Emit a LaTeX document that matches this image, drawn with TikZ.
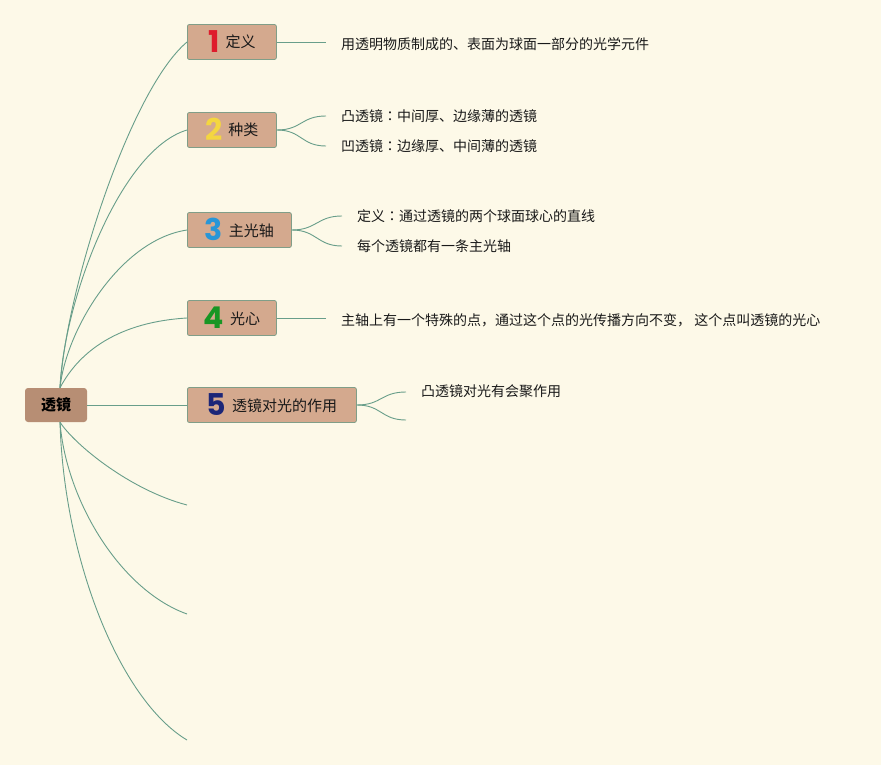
\documentclass[tikz,border=0pt]{standalone}
\usepackage{fontspec}
\setmainfont{Noto Sans CJK SC}
\newfontfamily\numfont{Poppins}
\newfontfamily\tcfont{Noto Sans CJK TC}
\definecolor{bgc}{RGB}{253,249,232}
\definecolor{linec}{RGB}{104,158,138}
\definecolor{boxc}{RGB}{212,169,142}
\definecolor{boxb}{RGB}{128,158,136}
\definecolor{rootc}{RGB}{183,142,116}
\definecolor{txtc}{RGB}{25,25,25}
\definecolor{n1}{RGB}{222,28,44}
\definecolor{n2}{RGB}{244,214,64}
\definecolor{n3}{RGB}{40,150,215}
\definecolor{n4}{RGB}{24,150,36}
\definecolor{n5}{RGB}{28,38,120}
\tikzset{
  conn/.style={draw=linec, line width=0.9pt},
  topic/.style={draw=boxb, line width=0.8pt, fill=boxc, rounded corners=2pt,
    anchor=west, minimum height=35pt, inner xsep=4pt, inner ysep=0pt,
    text height=21pt, text depth=0pt,
    font=\fontsize{15}{18}\selectfont, text=txtc},
  rootbox/.style={fill=rootc, rounded corners=3pt, minimum width=62pt,
    minimum height=34pt, inner sep=0pt, font=\fontsize{15}{18}\selectfont\bfseries, text=black},
  leaf/.style={anchor=west, inner xsep=15pt, inner ysep=2pt,
    font=\fontsize{14}{16}\selectfont, text=txtc},
}
\newcommand{\numd}[3]{{\numfont\bfseries\fontsize{30}{30}\selectfont\color{#1}#2}\hspace{6pt}\raisebox{4.5pt}{#3}}
\newcommand{\cc}{{\tcfont ：}}
\begin{document}
\begin{tikzpicture}[x=1pt,y=-1pt]
\fill[bgc] (0,0) rectangle (881,765);
\useasboundingbox (0,0) rectangle (881,765);

\node[rootbox] (root) at (56,405) {透镜};
\coordinate (rt) at ([xshift=4pt]root.north);
\coordinate (rb) at ([xshift=4pt]root.south);

\node[topic, minimum width=89pt] (b1) at (187,42) {\numd{n1}{1}{定义}};
\node[topic, minimum width=89pt] (b2) at (187,130) {\numd{n2}{2}{种类}};
\node[topic, minimum width=104pt] (b3) at (187,230) {\numd{n3}{3}{主光轴}};
\node[topic, minimum width=89pt] (b4) at (187,318) {\numd{n4}{4}{光心}};
\node[topic, minimum width=169pt] (b5) at (187,405) {\numd{n5}{5}{透镜对光的作用}};

\coordinate (e6) at (187,505);
\coordinate (e7) at (187,614);
\coordinate (e8) at (187,740);

\draw[conn] (rt) .. controls (66,290) and (130,90) .. (b1.west);
\draw[conn] (rt) .. controls (64,300) and (120,150) .. (b2.west);
\draw[conn] (rt) .. controls (66,330) and (120,240) .. (b3.west);
\draw[conn] (rt) .. controls (80,350) and (120,322) .. (b4.west);
\draw[conn] (root.east) -- (b5.west);
\draw[conn] (rb) .. controls (75,445) and (130,490) .. (e6);
\draw[conn] (rb) .. controls (66,500) and (120,590) .. (e7);
\draw[conn] (rb) .. controls (64,560) and (120,700) .. (e8);

\node[leaf] (l1) at (326,44) {用透明物质制成的、表面为球面一部分的光学元件};
\node[leaf] (l21) at (326,116) {凸透镜\cc 中间厚、边缘薄的透镜};
\node[leaf] (l22) at (326,146) {凹透镜\cc 边缘厚、中间薄的透镜};
\node[leaf] (l31) at (342,216) {定义\cc 通过透镜的两个球面球心的直线};
\node[leaf] (l32) at (342,246) {每个透镜都有一条主光轴};
\node[leaf] (l4) at (326,320) {主轴上有一个特殊的点，通过这个点的光传播方向不变， 这个点叫透镜的光心};
\node[leaf] (l51) at (406,391) {凸透镜对光有会聚作用};
\coordinate (l52) at (406,420);

\draw[conn] (b1.east) -- (b1.east -| l1.west);
\draw[conn] (b2.east) .. controls +(25,0) and +(-25,0) .. (l21.west);
\draw[conn] (b2.east) .. controls +(25,0) and +(-25,0) .. (l22.west);
\draw[conn] (b3.east) .. controls +(25,0) and +(-25,0) .. (l31.west);
\draw[conn] (b3.east) .. controls +(25,0) and +(-25,0) .. (l32.west);
\draw[conn] (b4.east) -- (b4.east -| l4.west);
\draw[conn] (b5.east) .. controls +(25,0) and +(-25,0) .. ([yshift=-1pt]l51.west);
\draw[conn] (b5.east) .. controls +(25,0) and +(-25,0) .. (l52);
\end{tikzpicture}
\end{document}
